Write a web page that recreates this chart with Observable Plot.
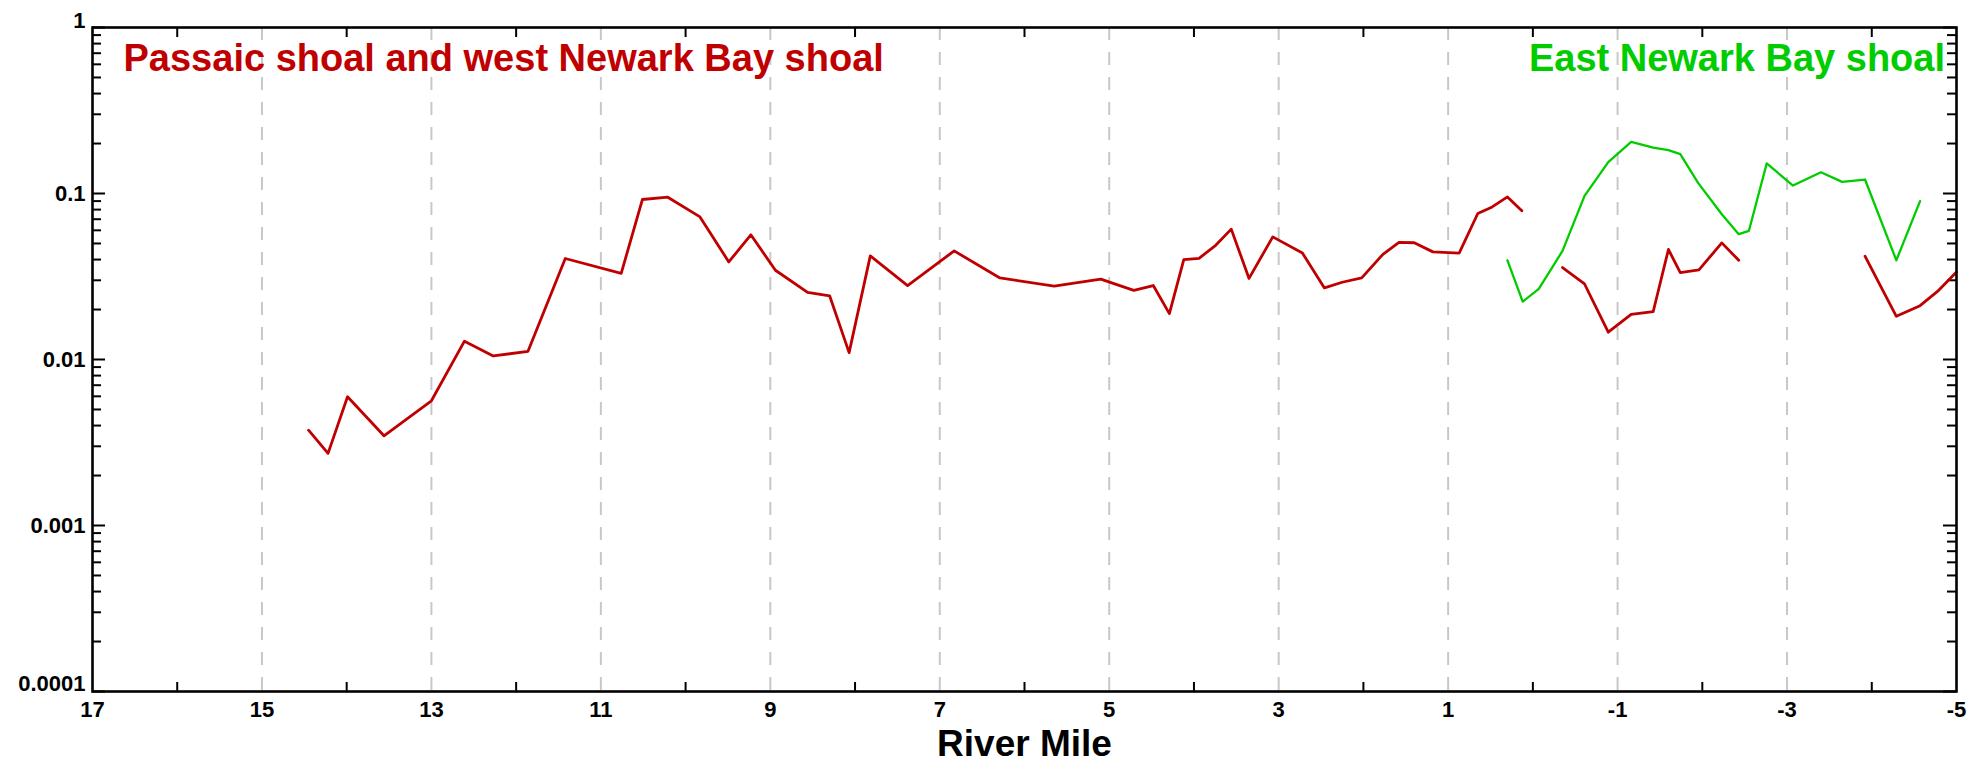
<!DOCTYPE html>
<html><head><meta charset="utf-8">
<script src="https://cdn.jsdelivr.net/npm/d3@7"></script>
<script src="https://cdn.jsdelivr.net/npm/@observablehq/plot@0.6"></script>
<style>body{margin:0;background:#fff}</style>
</head><body><div id="chart"></div>
<script>
// Passaic shoal and west Newark Bay shoal (red); null entries break the line
const redMile = [14.45, 14.22, 13.99, 13.56, 13.00, 12.61, 12.27, 11.86, 11.42, 10.76, 10.51, 10.21, 9.83, 9.49, 9.23, 8.94, 8.56, 8.30, 8.07, 7.82, 7.38, 6.83, 6.29, 5.65, 5.10, 4.71, 4.48, 4.29, 4.12, 3.94, 3.74, 3.56, 3.35, 3.07, 2.72, 2.46, 2.25, 2.02, 1.77, 1.58, 1.40, 1.18, 0.87, 0.65, 0.48, 0.30, 0.13, null, -0.35, -0.61, -0.89, -1.16, -1.42, -1.60, -1.74, -1.96, -2.23, -2.43, null, -3.92, -4.29, -4.57, -4.79, -5.00];
const redValue = [0.00375, 0.00272, 0.00596, 0.00347, 0.00564, 0.0129, 0.0105, 0.0112, 0.0406, 0.033, 0.092, 0.095, 0.0723, 0.0387, 0.0564, 0.0345, 0.0254, 0.0242, 0.011, 0.0421, 0.0279, 0.0451, 0.031, 0.0277, 0.0305, 0.0261, 0.0279, 0.0189, 0.040, 0.0407, 0.0489, 0.061, 0.0308, 0.0548, 0.0438, 0.027, 0.0292, 0.031, 0.043, 0.0507, 0.0505, 0.0445, 0.0437, 0.0758, 0.083, 0.0954, 0.0786, null, 0.0358, 0.0285, 0.0146, 0.0187, 0.0194, 0.046, 0.0334, 0.0347, 0.0504, 0.0396, null, 0.0419, 0.0182, 0.0211, 0.0261, 0.0337];
// East Newark Bay shoal (green)
const greenMile = [0.30, 0.12, -0.07, -0.35, -0.61, -0.89, -1.16, -1.42, -1.60, -1.74, -1.95, -2.23, -2.43, -2.55, -2.76, -3.07, -3.40, -3.65, -3.92, -4.29, -4.57];
const greenValue = [0.0396, 0.0223, 0.0266, 0.0451, 0.0968, 0.1544, 0.2047, 0.189, 0.1824, 0.1725, 0.1158, 0.075, 0.0569, 0.0596, 0.1517, 0.1117, 0.1344, 0.1175, 0.1214, 0.0396, 0.0899];

const xTickLabels = [17, 15, 13, 11, 9, 7, 5, 3, 1, -1, -3, -5];
const yTickLabels = [1, 0.1, 0.01, 0.001, 0.0001];
const redTitle = "Passaic shoal and west Newark Bay shoal";
const greenTitle = "East Newark Bay shoal";
const xTitle = "River Mile";

const W = 1982, H = 763;
const mL = 92, mR = 26, mT = 27, mB = 72;
const fw = W - mL - mR, fh = H - mT - mB;

const red = redMile.map((m, i) => ({mile: m, value: redValue[i]}));
const green = greenMile.map((m, i) => ({mile: m, value: greenValue[i]}));

const gridMiles = xTickLabels.slice(1, -1);
const minorMiles = d3.range(-4, 17, 2);
const majorY = yTickLabels;
const minorY = [];
for (let e = -4; e < 0; e++) for (let k = 2; k <= 9; k++) minorY.push(+(k * Math.pow(10, e)).toPrecision(3));

const tk = {stroke: "black", strokeWidth: 2};
const fontStyle = {fontSize: 22, fontWeight: "bold", fill: "black"};

const chart = Plot.plot({
  width: W, height: H,
  marginLeft: mL, marginRight: mR, marginTop: mT, marginBottom: mB,
  style: {fontFamily: "'Liberation Sans', Arial, sans-serif", background: "white", overflow: "visible"},
  x: {type: "linear", domain: [17, -5]},
  y: {type: "log", domain: [0.0001, 1]},
  marks: [
    Plot.ruleX(gridMiles, {stroke: "#c8c8c8", strokeWidth: 2, strokeDasharray: "13,12"}),
    Plot.ruleX(minorMiles, {...tk, insetTop: fh - 9}),
    Plot.ruleX(minorMiles, {...tk, insetBottom: fh - 10}),
    Plot.ruleY(majorY, {...tk, insetRight: fw - 13}),
    Plot.ruleY(majorY, {...tk, insetLeft: fw - 13}),
    Plot.ruleY(minorY, {...tk, insetRight: fw - 9}),
    Plot.ruleY(minorY, {...tk, insetLeft: fw - 9}),
    Plot.line(red, {x: "mile", y: "value", stroke: "#c00000", strokeWidth: 2.8}),
    Plot.line(green, {x: "mile", y: "value", stroke: "#00cc00", strokeWidth: 2.3}),
    Plot.frame({stroke: "black", strokeWidth: 2.6}),
    Plot.axisX({ticks: xTickLabels, tickSize: 0, tickPadding: 10, tickFormat: d => String(d), label: null, ...fontStyle}),
    Plot.axisY({ticks: [0.1, 0.01, 0.001], tickSize: 0, tickPadding: 7, tickFormat: d => String(d), label: null, ...fontStyle}),
    Plot.axisY({ticks: [1], tickSize: 0, tickPadding: 7, tickFormat: d => String(d), label: null, dy: -7, ...fontStyle}),
    Plot.axisY({ticks: [0.0001], tickSize: 0, tickPadding: 7, tickFormat: d => String(d), label: null, dy: -8, ...fontStyle}),
    Plot.text([redTitle], {text: d => d, frameAnchor: "top-left", textAnchor: "start", lineAnchor: "middle", dx: 31, dy: 31, fill: "#c00000", fontSize: 38, fontWeight: "bold"}),
    Plot.text([greenTitle], {text: d => d, frameAnchor: "top-right", textAnchor: "end", lineAnchor: "middle", dx: -11.5, dy: 31, fill: "#00cc00", fontSize: 38, fontWeight: "bold"}),
    Plot.text([xTitle], {text: d => d, frameAnchor: "bottom", lineAnchor: "middle", dy: 52.2, fill: "black", fontSize: 37, fontWeight: "bold"})
  ]
});
document.getElementById("chart").appendChild(chart);
</script>
</body></html>
